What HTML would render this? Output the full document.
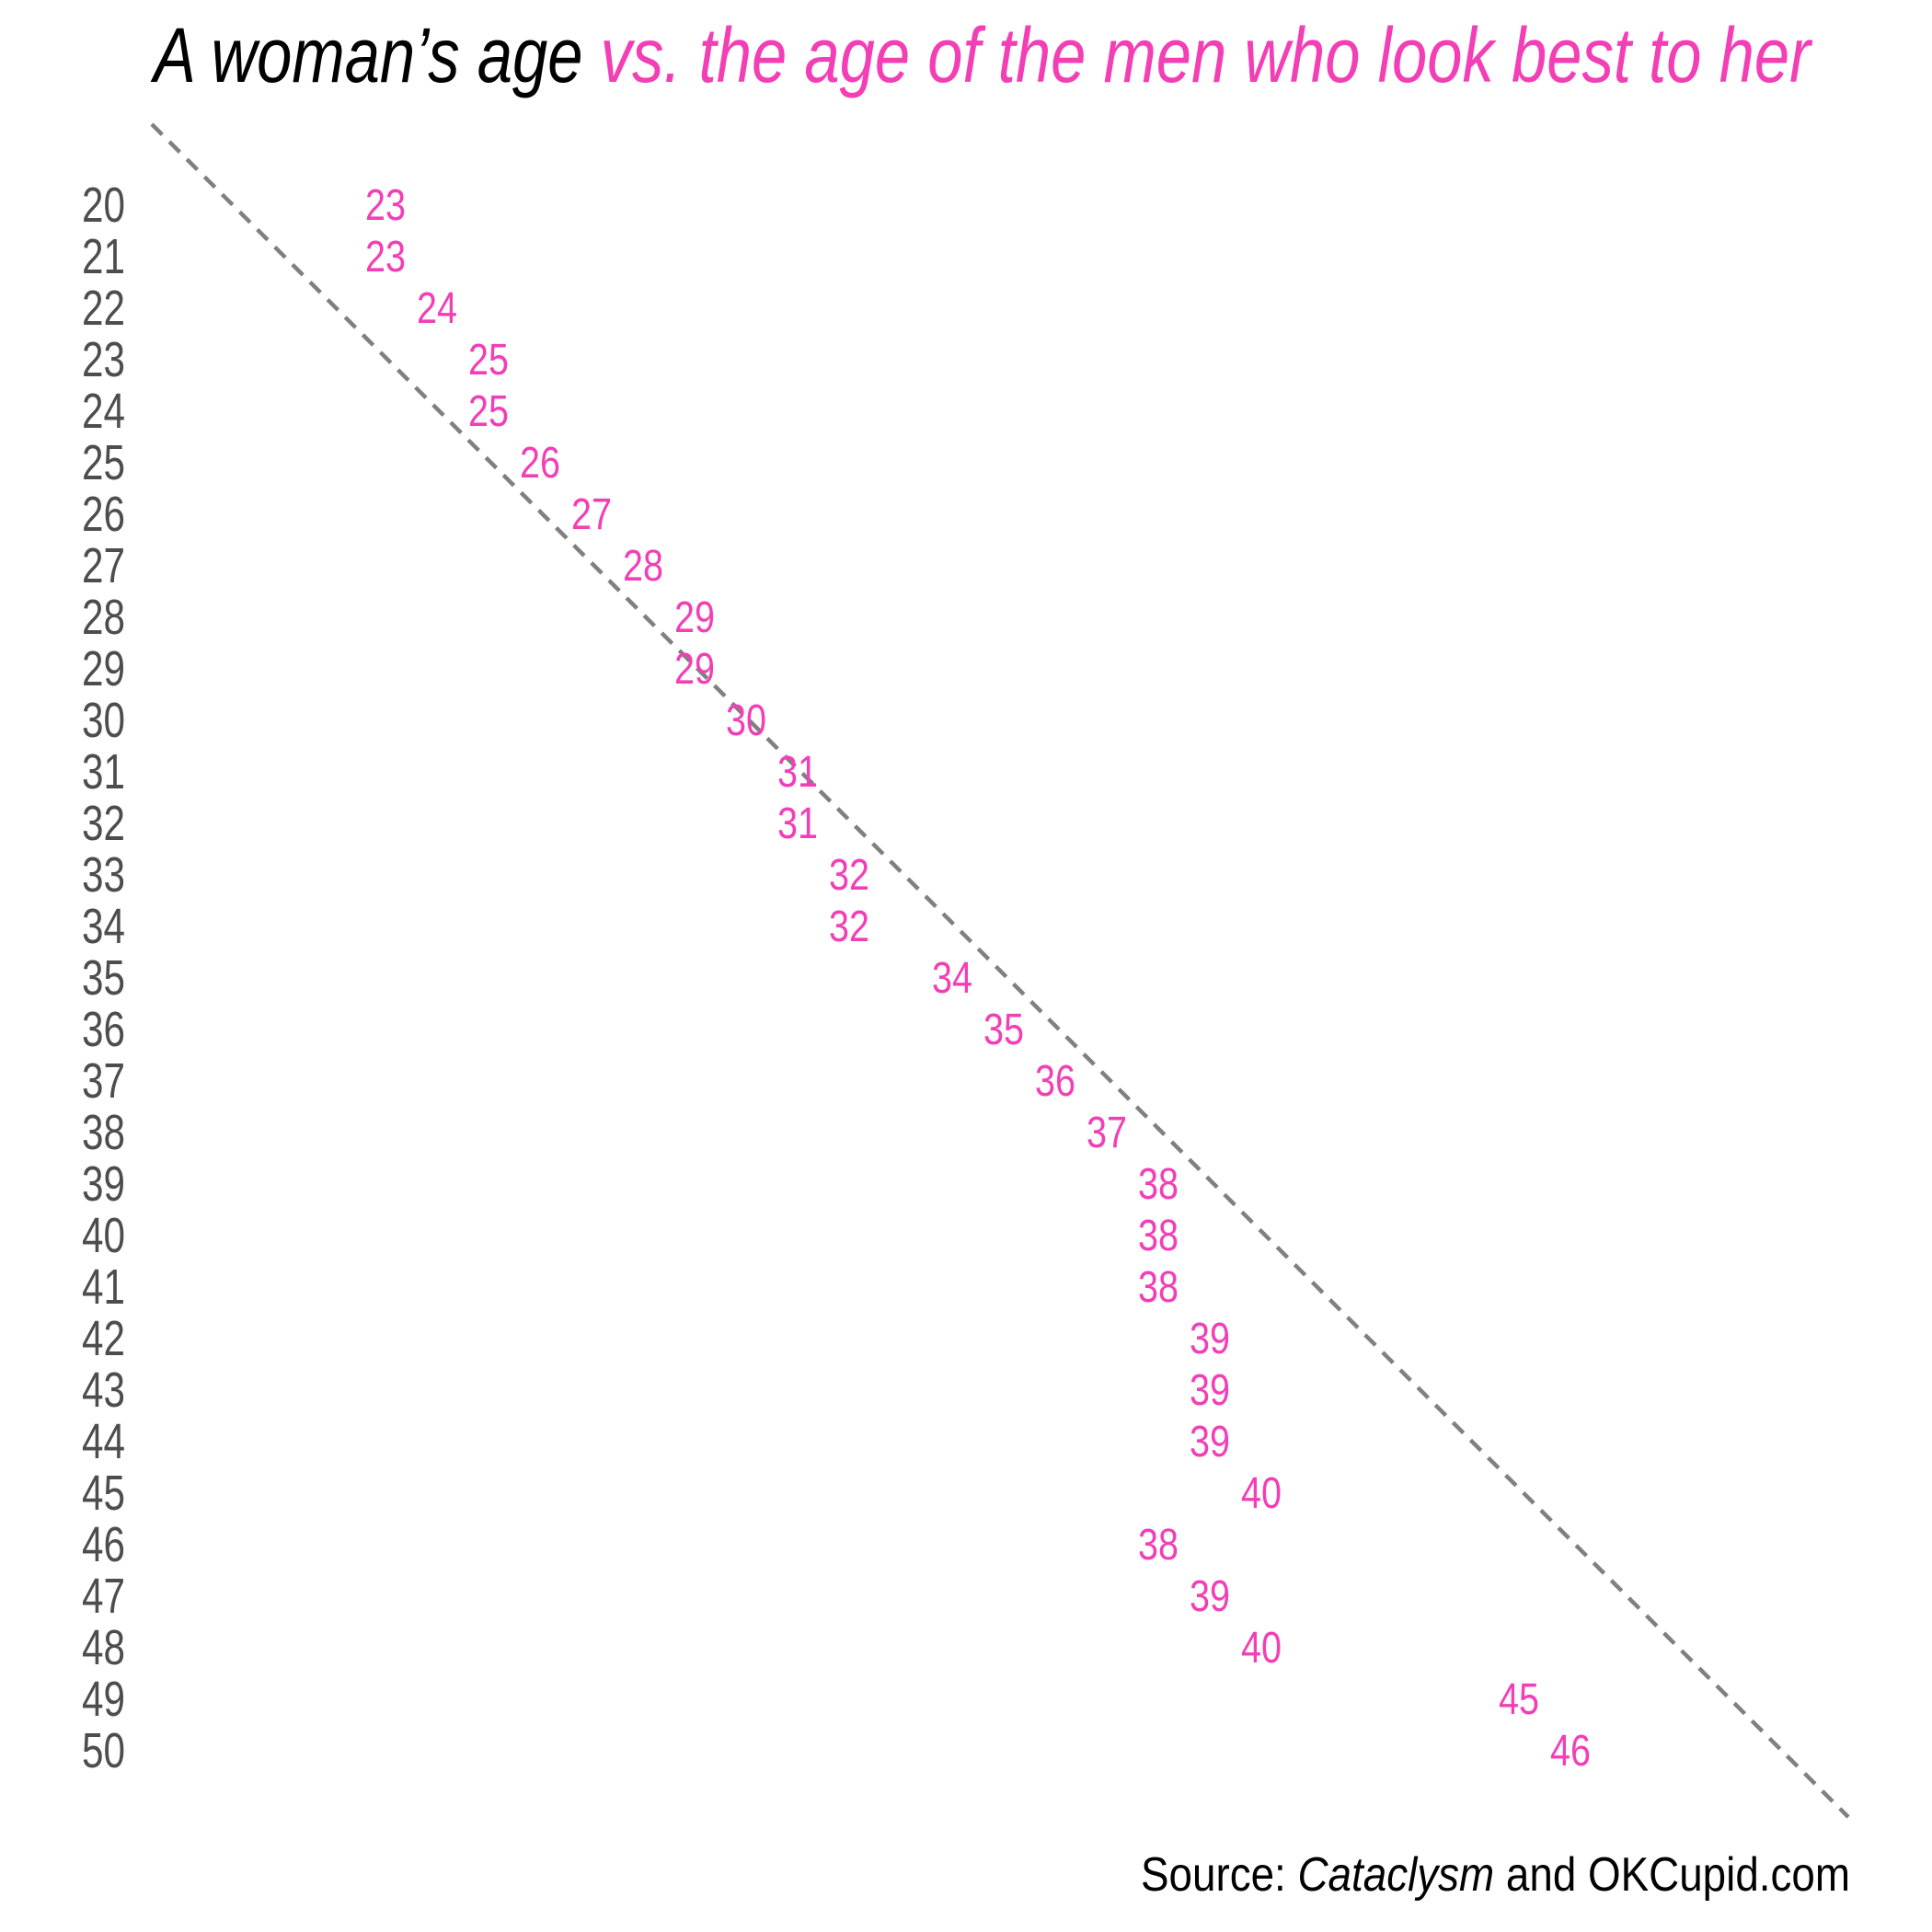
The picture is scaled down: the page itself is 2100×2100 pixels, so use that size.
<!DOCTYPE html>
<html><head><meta charset="utf-8"><style>html,body{margin:0;padding:0;background:#fff}svg{display:block}
.l{font-size:54px;fill:#4d4d4d;text-anchor:end}
.p{font-size:48px;fill:#f23fb5}
</style></head>
<body>
<svg width="2100" height="2100" viewBox="0 0 2100 2100" xmlns="http://www.w3.org/2000/svg" font-family="'Liberation Sans', sans-serif">
<text x="167" y="89" font-size="84" font-style="italic" textLength="1801" lengthAdjust="spacingAndGlyphs"><tspan fill="#000">A woman’s age </tspan><tspan fill="#f23fb5">vs. the age of the men who look best to her</tspan></text>
<line x1="165" y1="135" x2="2009" y2="1975" stroke="#808080" stroke-width="4.5" stroke-dasharray="16,11"/>
<g transform="translate(0,2)">
<text class="l" x="136" y="239" textLength="47" lengthAdjust="spacingAndGlyphs">20</text>
<text class="l" x="136" y="295" textLength="47" lengthAdjust="spacingAndGlyphs">21</text>
<text class="l" x="136" y="351" textLength="47" lengthAdjust="spacingAndGlyphs">22</text>
<text class="l" x="136" y="407" textLength="47" lengthAdjust="spacingAndGlyphs">23</text>
<text class="l" x="136" y="463" textLength="47" lengthAdjust="spacingAndGlyphs">24</text>
<text class="l" x="136" y="519" textLength="47" lengthAdjust="spacingAndGlyphs">25</text>
<text class="l" x="136" y="575" textLength="47" lengthAdjust="spacingAndGlyphs">26</text>
<text class="l" x="136" y="631" textLength="47" lengthAdjust="spacingAndGlyphs">27</text>
<text class="l" x="136" y="687" textLength="47" lengthAdjust="spacingAndGlyphs">28</text>
<text class="l" x="136" y="743" textLength="47" lengthAdjust="spacingAndGlyphs">29</text>
<text class="l" x="136" y="799" textLength="47" lengthAdjust="spacingAndGlyphs">30</text>
<text class="l" x="136" y="855" textLength="47" lengthAdjust="spacingAndGlyphs">31</text>
<text class="l" x="136" y="911" textLength="47" lengthAdjust="spacingAndGlyphs">32</text>
<text class="l" x="136" y="967" textLength="47" lengthAdjust="spacingAndGlyphs">33</text>
<text class="l" x="136" y="1023" textLength="47" lengthAdjust="spacingAndGlyphs">34</text>
<text class="l" x="136" y="1079" textLength="47" lengthAdjust="spacingAndGlyphs">35</text>
<text class="l" x="136" y="1135" textLength="47" lengthAdjust="spacingAndGlyphs">36</text>
<text class="l" x="136" y="1191" textLength="47" lengthAdjust="spacingAndGlyphs">37</text>
<text class="l" x="136" y="1247" textLength="47" lengthAdjust="spacingAndGlyphs">38</text>
<text class="l" x="136" y="1303" textLength="47" lengthAdjust="spacingAndGlyphs">39</text>
<text class="l" x="136" y="1359" textLength="47" lengthAdjust="spacingAndGlyphs">40</text>
<text class="l" x="136" y="1415" textLength="47" lengthAdjust="spacingAndGlyphs">41</text>
<text class="l" x="136" y="1471" textLength="47" lengthAdjust="spacingAndGlyphs">42</text>
<text class="l" x="136" y="1527" textLength="47" lengthAdjust="spacingAndGlyphs">43</text>
<text class="l" x="136" y="1583" textLength="47" lengthAdjust="spacingAndGlyphs">44</text>
<text class="l" x="136" y="1639" textLength="47" lengthAdjust="spacingAndGlyphs">45</text>
<text class="l" x="136" y="1695" textLength="47" lengthAdjust="spacingAndGlyphs">46</text>
<text class="l" x="136" y="1751" textLength="47" lengthAdjust="spacingAndGlyphs">47</text>
<text class="l" x="136" y="1807" textLength="47" lengthAdjust="spacingAndGlyphs">48</text>
<text class="l" x="136" y="1863" textLength="47" lengthAdjust="spacingAndGlyphs">49</text>
<text class="l" x="136" y="1919" textLength="47" lengthAdjust="spacingAndGlyphs">50</text>
</g>
<g transform="translate(0,2)">
<text class="p" x="397" y="237" textLength="44" lengthAdjust="spacingAndGlyphs">23</text>
<text class="p" x="397" y="293" textLength="44" lengthAdjust="spacingAndGlyphs">23</text>
<text class="p" x="453" y="349" textLength="44" lengthAdjust="spacingAndGlyphs">24</text>
<text class="p" x="509" y="405" textLength="44" lengthAdjust="spacingAndGlyphs">25</text>
<text class="p" x="509" y="461" textLength="44" lengthAdjust="spacingAndGlyphs">25</text>
<text class="p" x="565" y="517" textLength="44" lengthAdjust="spacingAndGlyphs">26</text>
<text class="p" x="621" y="573" textLength="44" lengthAdjust="spacingAndGlyphs">27</text>
<text class="p" x="677" y="629" textLength="44" lengthAdjust="spacingAndGlyphs">28</text>
<text class="p" x="733" y="685" textLength="44" lengthAdjust="spacingAndGlyphs">29</text>
<text class="p" x="733" y="741" textLength="44" lengthAdjust="spacingAndGlyphs">29</text>
<text class="p" x="789" y="797" textLength="44" lengthAdjust="spacingAndGlyphs">30</text>
<text class="p" x="845" y="853" textLength="44" lengthAdjust="spacingAndGlyphs">31</text>
<text class="p" x="845" y="909" textLength="44" lengthAdjust="spacingAndGlyphs">31</text>
<text class="p" x="901" y="965" textLength="44" lengthAdjust="spacingAndGlyphs">32</text>
<text class="p" x="901" y="1021" textLength="44" lengthAdjust="spacingAndGlyphs">32</text>
<text class="p" x="1013" y="1077" textLength="44" lengthAdjust="spacingAndGlyphs">34</text>
<text class="p" x="1069" y="1133" textLength="44" lengthAdjust="spacingAndGlyphs">35</text>
<text class="p" x="1125" y="1189" textLength="44" lengthAdjust="spacingAndGlyphs">36</text>
<text class="p" x="1181" y="1245" textLength="44" lengthAdjust="spacingAndGlyphs">37</text>
<text class="p" x="1237" y="1301" textLength="44" lengthAdjust="spacingAndGlyphs">38</text>
<text class="p" x="1237" y="1357" textLength="44" lengthAdjust="spacingAndGlyphs">38</text>
<text class="p" x="1237" y="1413" textLength="44" lengthAdjust="spacingAndGlyphs">38</text>
<text class="p" x="1293" y="1469" textLength="44" lengthAdjust="spacingAndGlyphs">39</text>
<text class="p" x="1293" y="1525" textLength="44" lengthAdjust="spacingAndGlyphs">39</text>
<text class="p" x="1293" y="1581" textLength="44" lengthAdjust="spacingAndGlyphs">39</text>
<text class="p" x="1349" y="1637" textLength="44" lengthAdjust="spacingAndGlyphs">40</text>
<text class="p" x="1237" y="1693" textLength="44" lengthAdjust="spacingAndGlyphs">38</text>
<text class="p" x="1293" y="1749" textLength="44" lengthAdjust="spacingAndGlyphs">39</text>
<text class="p" x="1349" y="1805" textLength="44" lengthAdjust="spacingAndGlyphs">40</text>
<text class="p" x="1629" y="1861" textLength="44" lengthAdjust="spacingAndGlyphs">45</text>
<text class="p" x="1685" y="1917" textLength="44" lengthAdjust="spacingAndGlyphs">46</text>
</g>
<text x="1240" y="2055" font-size="52" fill="#000" textLength="771" lengthAdjust="spacingAndGlyphs">Source: <tspan font-style="italic">Cataclysm</tspan> and OKCupid.com</text>
</svg>
</body></html>
